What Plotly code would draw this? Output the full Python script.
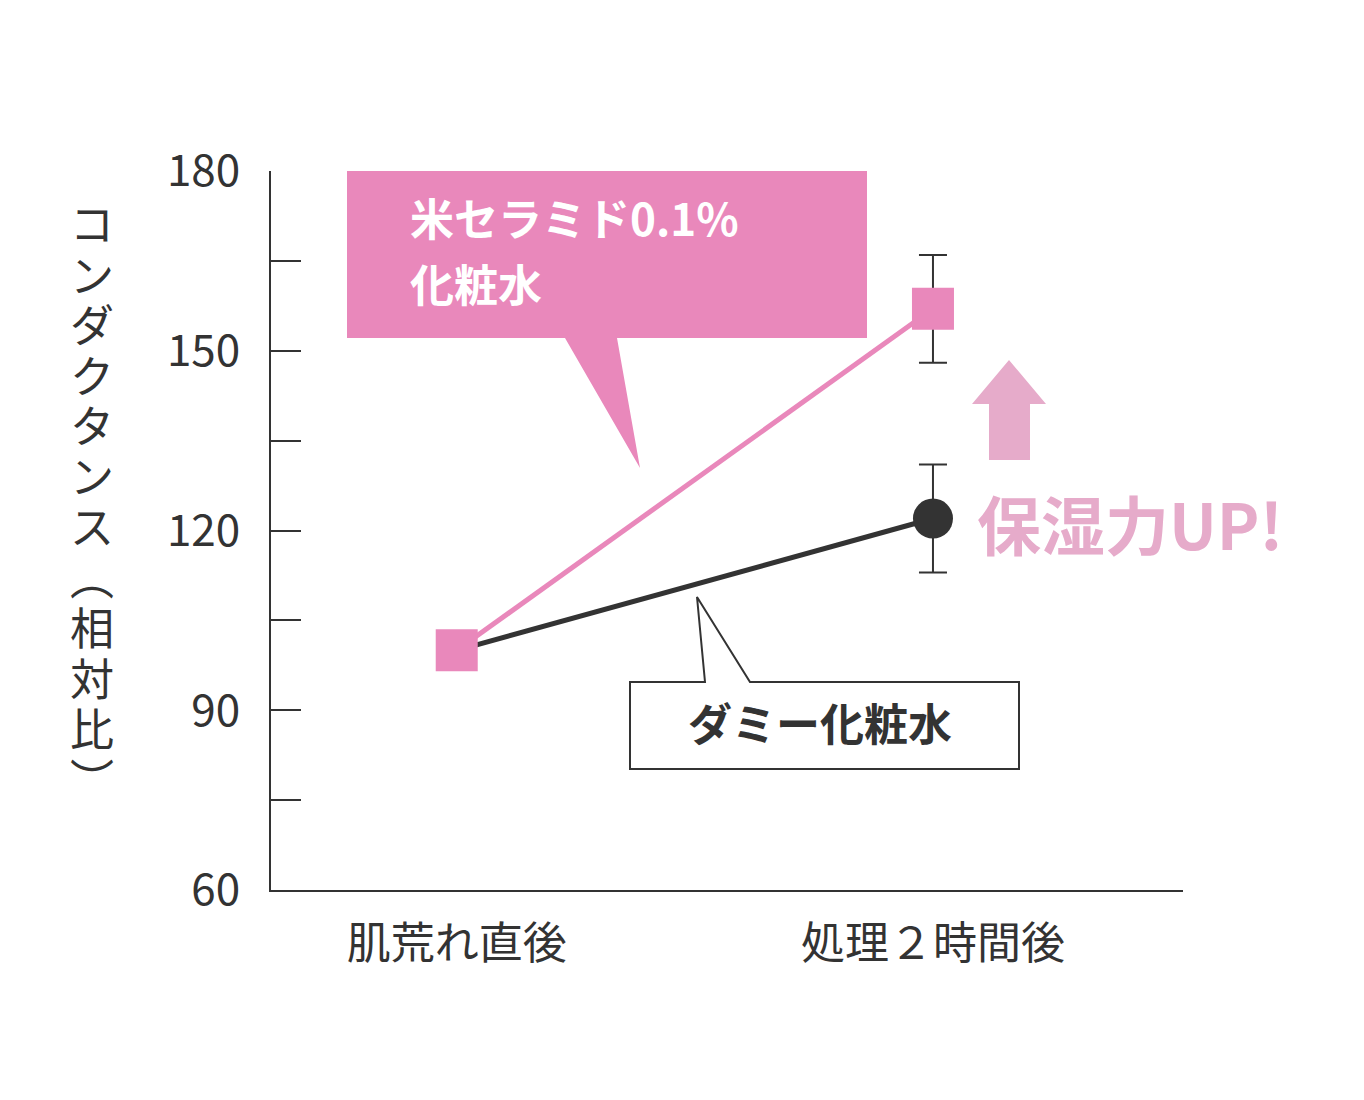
import plotly.graph_objects as go

W, H = 1364, 1100
L, R, T, B = 271, 1183, 171, 890
OFF = 8  # page offset in the screenshot

x_labels = ["肌荒れ直後", "処理２時間後"]
x_pos = [0, 1]
pink_vals = [100, 157]
pink_err = [0, 9]
black_vals = [100, 122]
black_err = [0, 9]
y_ticks = [60, 75, 90, 105, 120, 135, 150, 165, 180]
y_ticktext = ["60", "", "90", "", "120", "", "150", "", "180"]
ytitle_chars = list("コンダクタンス") + ["︵", "相", "対", "比", "︶"]

PINK = "#E988BB"
LPINK = "#E6ABCA"
DARK = "#333333"
FONT = "Noto Sans CJK JP"


def px(x):
    return (x - L) / (R - L)


def py(y):
    return (B - y) / (B - T)


def path(pts):
    return "M " + " L ".join(f"{px(a)},{py(b)}" for a, b in pts) + " Z"


fig = go.Figure()
fig.add_trace(go.Scatter(
    x=x_pos, y=black_vals, mode="lines+markers",
    line=dict(color=DARK, width=5),
    marker=dict(symbol="circle", size=40, color=DARK),
    error_y=dict(type="data", array=black_err, color=DARK, thickness=2, width=14),
))
fig.add_trace(go.Scatter(
    x=x_pos, y=pink_vals, mode="lines+markers",
    line=dict(color=PINK, width=5),
    marker=dict(symbol="square", size=42, color=PINK),
    error_y=dict(type="data", array=pink_err, color=DARK, thickness=2, width=14),
))

shapes = [
    dict(type="path", path=path([(347, 171), (867, 171), (867, 338), (617, 338),
                                 (640, 468), (565, 338), (347, 338)]),
         xref="paper", yref="paper", fillcolor=PINK, line=dict(width=0), layer="below"),
    dict(type="path", path=path([(630, 682), (705, 682), (697, 597), (750, 682),
                                 (1019, 682), (1019, 769), (630, 769)]),
         xref="paper", yref="paper", fillcolor="white", line=dict(color=DARK, width=2)),
    dict(type="path", path=path([(1009, 360), (1046, 404), (1030, 404), (1030, 460),
                                 (989, 460), (989, 404), (972, 404)]),
         xref="paper", yref="paper", fillcolor=LPINK, line=dict(width=0)),
]


def note(x, y, text, size, color, xanchor="left"):
    return dict(x=px(x), y=py(y), xref="paper", yref="paper", text=text,
                xanchor=xanchor, yanchor="middle", showarrow=False,
                font=dict(size=size, color=color, family=FONT))


annotations = [
    note(408, 217, "<b>米セラミド0.1%</b>", 44, "white"),
    note(408, 283, "<b>化粧水</b>", 44, "white"),
    note(820, 722, "<b>ダミー化粧水</b>", 44, DARK, "center"),
    note(975, 522, "<b>保湿力UP!</b>", 64, LPINK),
]
for i, ch in enumerate(ytitle_chars):
    annotations.append(note(92, 222 + i * 50.5, ch, 44, DARK, "center"))

fig.update_layout(
    width=W, height=H, showlegend=False,
    paper_bgcolor="white", plot_bgcolor="white",
    margin=dict(l=L - OFF, r=W - R + OFF, t=T - OFF, b=H - B + OFF),
    font=dict(family=FONT, color=DARK),
    xaxis=dict(range=[-0.39, 1.525], tickvals=x_pos, ticktext=x_labels, showgrid=False,
               zeroline=False, showline=True, linecolor=DARK, linewidth=2, ticks="",
               tickfont=dict(size=44, color=DARK), ticklabelstandoff=14),
    yaxis=dict(range=[60, 180], tickvals=y_ticks, ticktext=y_ticktext, showgrid=False,
               zeroline=False, showline=True, linecolor=DARK, linewidth=2, ticks="inside",
               ticklen=30, tickcolor=DARK, tickwidth=2, tickfont=dict(size=44, color=DARK),
               ticklabelstandoff=20),
    shapes=shapes, annotations=annotations,
)
fig.write_html("out.html")
